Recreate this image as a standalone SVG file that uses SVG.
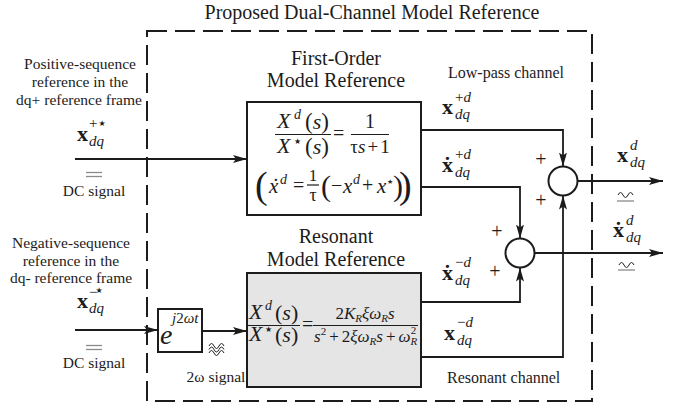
<svg xmlns="http://www.w3.org/2000/svg" width="686" height="408" viewBox="0 0 686 408">
<defs>
<style>
text{font-family:"Liberation Serif","Times New Roman",serif;fill:#1c1c1c}
.lbl{font-size:15.5px;text-anchor:middle}
.ttl{font-size:20px;text-anchor:middle}
.ch{font-size:16px}
.vx{font-size:22px;font-weight:bold}
.dot{font-size:22px;font-weight:bold;text-anchor:middle}
.sc{font-size:15px;font-style:italic}
.up{font-style:normal}
.it{font-style:italic}
.st{font-family:"DejaVu Sans",sans-serif;font-style:normal}
.pl{font-size:20px;text-anchor:middle}
.box{fill:#fff;stroke:#1c1c1c;stroke-width:2}
.res{fill:#e5e5e5}
.wire{fill:none;stroke:#1c1c1c;stroke-width:1.8}
.arr{marker-end:url(#ah)}
.frame{fill:none;stroke:#1c1c1c;stroke-width:2;stroke-dasharray:20 8}
.gray{stroke:#8a8a8a;stroke-width:1.3}
.wave{fill:none;stroke:#1c1c1c;stroke-width:1}
.bar{stroke:#1c1c1c;stroke-width:1.2}
.sum{fill:#fff;stroke:#1c1c1c;stroke-width:2}
</style>
<marker id="ah" markerUnits="userSpaceOnUse" markerWidth="15" markerHeight="9" refX="14" refY="4.5" orient="auto">
<path d="M0,0.5 L14,4.5 L0,8.5 L3,4.5 z" fill="#1c1c1c"/>
</marker>
<path id="wv" d="M0,4 Q2.5,-1 5,4 T10,4 T15,4"/>
</defs>

<!-- title and dashed frame -->
<text class="ttl" x="372" y="19">Proposed Dual-Channel Model Reference</text>
<rect class="frame" x="147" y="31" width="445" height="370"/>

<!-- connectors -->
<g id="connectors">
<path class="wire arr" d="M75,159 H247"/>
<path class="wire arr" d="M75,330 H158"/>
<path class="wire arr" d="M202,331 H247"/>
<path class="wire arr" d="M421,130 H563 V166.5"/>
<path class="wire arr" d="M421,187 H520 V238.5"/>
<path class="wire arr" d="M421,302 H520 V267.5"/>
<path class="wire arr" d="M421,357 H563 V195.5"/>
<path class="wire arr" d="M577.5,181 H663"/>
<path class="wire arr" d="M534.5,253 H663"/>
</g>

<!-- positive-sequence input -->
<g id="input-positive">
<text class="lbl" x="80" y="69">Positive-sequence</text>
<text class="lbl" x="80" y="87">reference in the</text>
<text class="lbl" x="79" y="105">dq+ reference frame</text>
<text class="vx" x="77" y="141">x</text>
<text class="sc" x="89" y="128"><tspan class="up">+</tspan><tspan class="st" font-size="8" dx="1" dy="-2">★</tspan></text>
<text class="sc" x="89" y="146">dq</text>
<line class="gray" x1="86" y1="172.5" x2="102" y2="172.5"/>
<line class="gray" x1="86" y1="176.5" x2="102" y2="176.5"/>
<text class="lbl" x="94" y="196" font-size="15">DC signal</text>
</g>

<!-- negative-sequence input -->
<g id="input-negative">
<text class="lbl" x="71" y="248">Negative-sequence</text>
<text class="lbl" x="71" y="266">reference in the</text>
<text class="lbl" x="71" y="283">dq- reference frame</text>
<text class="vx" x="77" y="308">x</text>
<text class="sc" x="89" y="297"><tspan class="up">−</tspan><tspan class="st" font-size="8" dx="-2" dy="-4">★</tspan></text>
<text class="sc" x="89" y="313">dq</text>
<line class="gray" x1="86" y1="345.5" x2="102" y2="345.5"/>
<line class="gray" x1="86" y1="349.5" x2="102" y2="349.5"/>
<text class="lbl" x="94" y="368" font-size="15">DC signal</text>
</g>

<!-- frequency shift block -->
<g id="rotation">
<rect class="box" x="158" y="309" width="44" height="43"/>
<text class="it" x="160" y="344" font-size="28">e</text>
<text class="it" x="172" y="323" font-size="15">j<tspan class="up">2</tspan>ωt</text>
<use href="#wv" class="wave" transform="translate(209,342)"/>
<use href="#wv" class="wave" transform="translate(209,345.5)"/>
<use href="#wv" class="wave" transform="translate(209,349)"/>
<text class="lbl" x="216" y="382" font-size="14.5">2ω signal</text>
</g>

<!-- first-order model -->
<g id="first-order">
<text class="ttl" x="336" y="65">First-Order</text>
<text class="ttl" x="336" y="87">Model Reference</text>
<rect class="box" x="247" y="102" width="174" height="113"/>
<text class="it" x="277" y="128" font-size="22">X</text>
<text class="it" x="294" y="119" font-size="14">d</text>
<text x="305" y="129" font-size="23">(<tspan class="it" font-size="22">s</tspan>)</text>
<line class="bar" x1="275" y1="134.5" x2="331" y2="134.5"/>
<text class="it" x="277" y="153" font-size="22">X</text>
<text class="st" x="294" y="144" font-size="8">★</text>
<text x="305" y="154" font-size="23">(<tspan class="it" font-size="22">s</tspan>)</text>
<text x="333" y="140" font-size="20">=</text>
<text x="370" y="128" font-size="20" text-anchor="middle">1</text>
<line class="bar" x1="351" y1="134.5" x2="389" y2="134.5"/>
<text x="370" y="153" font-size="19" text-anchor="middle">τ<tspan class="it">s</tspan><tspan dx="2">+</tspan><tspan dx="2">1</tspan></text>

<text x="255" y="198" font-size="38">(</text>
<text class="it" x="269" y="193" font-size="21">x</text>
<text class="it" x="274.5" y="193" font-size="21" text-anchor="middle">˙</text>
<text class="it" x="280" y="184" font-size="14">d</text>
<text x="293" y="192" font-size="20">=</text>
<text x="313" y="181" font-size="17" text-anchor="middle">1</text>
<line class="bar" x1="307" y1="185" x2="319" y2="185"/>
<text x="313" y="201" font-size="18" text-anchor="middle">τ</text>
<text x="321" y="196" font-size="30">(</text>
<text x="331" y="192" font-size="20">−</text>
<text class="it" x="343" y="193" font-size="21">x</text>
<text class="it" x="353" y="184" font-size="14">d</text>
<text x="362" y="192" font-size="20">+</text>
<text class="it" x="377" y="193" font-size="21">x</text>
<text class="st" x="387" y="184" font-size="7">★</text>
<text x="393" y="196" font-size="30">)</text>
<text x="399" y="198" font-size="38">)</text>
</g>

<!-- resonant model -->
<g id="resonant">
<text class="ttl" x="336" y="243">Resonant</text>
<text class="ttl" x="336" y="266">Model Reference</text>
<rect class="box res" x="247" y="273" width="174" height="114"/>
<text class="it" x="249" y="319" font-size="22">X</text>
<text class="it" x="265" y="310" font-size="14">d</text>
<text x="275" y="320" font-size="22">(<tspan class="it">s</tspan>)</text>
<line class="bar" x1="248" y1="325.5" x2="300" y2="325.5"/>
<text class="it" x="249" y="341" font-size="22">X</text>
<text class="st" x="265" y="332" font-size="8">★</text>
<text x="275" y="342" font-size="22">(<tspan class="it">s</tspan>)</text>
<text x="302" y="331" font-size="20">=</text>
<text class="it" x="365" y="319" font-size="17" text-anchor="middle"><tspan class="up">2</tspan>K<tspan font-size="11" dy="3">R</tspan><tspan dy="-3">ξω</tspan><tspan font-size="11" dy="3">R</tspan><tspan dy="-3">s</tspan></text>
<line class="bar" x1="313" y1="325.5" x2="418" y2="325.5"/>
<text class="it" x="314" y="342" font-size="17">s<tspan class="up" font-size="11" dy="-7">2</tspan><tspan class="up" dy="7" dx="3">+</tspan><tspan class="up" dx="3">2</tspan>ξω<tspan font-size="11" dy="3">R</tspan><tspan dy="-3">s</tspan><tspan class="up" dx="3">+</tspan><tspan dx="3">ω</tspan><tspan font-size="11" dy="3">R</tspan><tspan class="up" font-size="11" dx="-6.5" dy="-11">2</tspan></text>
</g>

<!-- channel signals -->
<g id="channel-labels">
<text class="ch" x="448" y="78">Low-pass channel</text>
<text class="vx" x="442" y="114">x</text>
<text class="sc" x="455" y="102"><tspan class="up">+</tspan>d</text>
<text class="sc" x="455" y="119">dq</text>

<text class="vx" x="442" y="172">x</text>
<text class="dot" x="447.5" y="172">˙</text>
<text class="sc" x="455" y="159"><tspan class="up">+</tspan>d</text>
<text class="sc" x="455" y="177">dq</text>

<text class="vx" x="442" y="280">x</text>
<text class="dot" x="447.5" y="280">˙</text>
<text class="sc" x="455" y="267"><tspan class="up">−</tspan>d</text>
<text class="sc" x="455" y="285">dq</text>

<text class="vx" x="444" y="340">x</text>
<text class="sc" x="457" y="327"><tspan class="up">−</tspan>d</text>
<text class="sc" x="457" y="345">dq</text>
<text class="ch" x="447" y="383">Resonant channel</text>
</g>

<!-- summing junctions -->
<g id="sum-output">
<circle class="sum" cx="563" cy="181" r="14.5"/>
<text class="pl" x="541" y="166">+</text>
<text class="pl" x="541" y="207">+</text>
</g>
<g id="sum-derivative">
<circle class="sum" cx="520" cy="253" r="14.5"/>
<text class="pl" x="497" y="238">+</text>
<text class="pl" x="495" y="278">+</text>
</g>

<!-- outputs -->
<g id="outputs">
<text class="vx" x="617" y="162">x</text>
<text class="sc" x="630" y="150">d</text>
<text class="sc" x="630" y="167">dq</text>
<use href="#wv" class="wave" transform="translate(618,191)"/>
<line class="gray" x1="617" y1="201" x2="634" y2="201"/>

<text class="vx" x="613" y="237">x</text>
<text class="dot" x="618.5" y="237">˙</text>
<text class="sc" x="626" y="225">d</text>
<text class="sc" x="626" y="242">dq</text>
<use href="#wv" class="wave" transform="translate(619,261)"/>
<line class="gray" x1="618" y1="270" x2="635" y2="270"/>
</g>
</svg>
